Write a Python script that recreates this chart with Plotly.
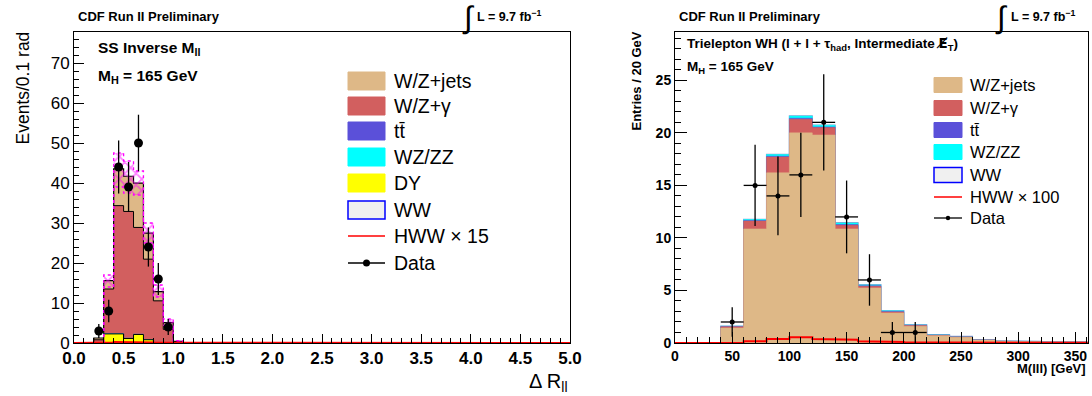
import numpy as np
import plotly.graph_objects as go

W, H = 1092, 396

# ---------------- Left panel data (Delta R_ll, 0.1 rad bins) ----------------
L_LO = [0.2, 0.3, 0.4, 0.5, 0.6, 0.7, 0.8, 0.9, 1.0]          # lower bin edges (non-empty bins)
L_WW = [0.0, 0.02, 0.03, 0.03, 0.03, 0.02, 0.01, 0.0, 0.0]
L_DY = [0.0, 2.25, 2.25, 1.1, 2.1, 0.8, 0.0, 0.0, 0.0]
L_WZZZ = [0.0, 0.02, 0.04, 0.04, 0.04, 0.03, 0.02, 0.01, 0.0]
L_TT = [0.0, 0.01, 0.02, 0.02, 0.02, 0.01, 0.01, 0.0, 0.0]
L_WZG = [0.8, 11.2, 32.0, 31.7, 26.7, 20.1, 10.5, 3.4, 0.2]
L_WZJ = [0.45, 2.1, 9.2, 8.8, 11.1, 6.5, 2.3, 1.7, 0.2]
L_HWW = [0.0, 0.1, 0.25, 0.25, 0.2, 0.1, 0.05, 0.0, 0.0]       # HWW x 15
L_BAND_UP = [0.0, 17.0, 47.5, 45.5, 43.0, 30.0, 14.5, 6.0, 0.6]
L_BAND_DN = [0.0, 14.0, 39.0, 37.5, 37.0, 25.0, 11.5, 4.4, 0.2]
L_DATA_X = [0.25, 0.35, 0.45, 0.55, 0.65, 0.75, 0.85, 0.95]
L_DATA_Y = [3, 8, 44, 39, 50, 24, 16, 4]
L_BINW = 0.1

# ---------------- Right panel data (M(lll), 20 GeV bins) ----------------
R_LO = [0, 20, 40, 60, 80, 100, 120, 140, 160, 180, 200, 220, 240, 260, 280, 300, 320, 340]
R_WZJ = [0, 0, 1.43, 10.86, 16.2, 20.0, 19.8, 10.86, 5.24, 2.86, 1.6, 0.7, 0.55, 0.28, 0.17, 0.12, 0.08, 0.08]
R_WZG = [0, 0, 0.12, 0.74, 1.5, 1.3, 0.7, 0.34, 0.16, 0.1, 0.06, 0.04, 0.03, 0.01, 0.01, 0, 0, 0]
R_TT = [0, 0, 0.02, 0.05, 0.08, 0.1, 0.07, 0.07, 0.05, 0.04, 0.02, 0.02, 0.02, 0.01, 0.01, 0.01, 0, 0]
R_WZZZ = [0, 0, 0.03, 0.1, 0.15, 0.2, 0.15, 0.15, 0.08, 0.06, 0.04, 0.02, 0.02, 0.01, 0.01, 0.01, 0.01, 0.01]
R_WW = [0, 0, 0.01, 0.02, 0.03, 0.03, 0.03, 0.03, 0.02, 0.02, 0.02, 0.02, 0.02, 0.01, 0.01, 0.01, 0.01, 0.01]
R_HWW = [0, 0, 0.03, 0.16, 0.38, 0.54, 0.38, 0.32, 0.16, 0.1, 0.06, 0.05, 0.05, 0.04, 0.04, 0.03, 0.03, 0.02]  # x100
R_DATA_X = [50, 70, 90, 110, 130, 150, 170, 190, 210]
R_DATA_Y = [2, 15, 14, 16, 21, 12, 6, 1, 1]
R_BINW = 20

C_WZJ = "#deb887"
C_WZG = "#d25f5f"
C_TT = "#5b50d9"
C_WZZZ = "#00ffff"
C_DY = "#ffff00"
C_WWF = "#f0f0f0"
C_WWL = "#0000ff"
FONT = "Liberation Sans, Arial, Helvetica, sans-serif"


def step(lo, vals, w):
    xs, ys = [lo[0]], [0.0]
    for x0, v in zip(lo, vals):
        xs += [x0, x0 + w]
        ys += [v, v]
    xs.append(lo[-1] + w)
    ys.append(0.0)
    return xs, ys


fig = go.Figure()


def add_stack(comps, lo, w, xa, ya):
    # comps: bottom -> top list of (values, fill, line, lw)
    cum = np.zeros(len(lo))
    cums = []
    for vals, fc, lc, lw in comps:
        cum = cum + np.array(vals, dtype=float)
        cums.append((cum.copy(), fc, lc, lw))
    for c, fc, lc, lw in reversed(cums):
        xs, ys = step(lo, list(c), w)
        fig.add_trace(go.Scatter(x=xs, y=ys, mode="lines", fill="tozeroy", fillcolor=fc,
                                 line=dict(color=lc, width=lw), xaxis=xa, yaxis=ya,
                                 showlegend=False, hoverinfo="skip"))


# Left stack (bottom -> top)
add_stack([(L_WW, C_WWF, C_WWF, 0.5), (L_DY, C_DY, "black", 1), (L_WZZZ, C_WZZZ, C_WZZZ, 0.5),
           (L_TT, C_TT, C_TT, 0.5), (L_WZG, C_WZG, "black", 1), (L_WZJ, C_WZJ, "black", 1.2)],
          L_LO, L_BINW, "x", "y")

# uncertainty band (magenta hatched), one closed rectangle per bin
bx, by = [], []
for lo, up, dn in zip(L_LO, L_BAND_UP, L_BAND_DN):
    if up - dn <= 0:
        continue
    bx += [lo, lo + L_BINW, lo + L_BINW, lo, lo, None]
    by += [dn, dn, up, up, dn, None]
fig.add_trace(go.Scatter(x=bx, y=by, mode="lines", fill="toself", fillcolor="rgba(0,0,0,0)",
                         fillpattern=dict(shape="x", fgcolor="#ff00ff", size=8, solidity=0.4,
                                          fillmode="overlay"),
                         line=dict(width=0, color="rgba(0,0,0,0)"),
                         xaxis="x", yaxis="y", showlegend=False, hoverinfo="skip"))
for band in (L_BAND_UP, L_BAND_DN):
    xs, ys = step(L_LO[1:], band[1:], L_BINW)
    fig.add_trace(go.Scatter(x=xs, y=ys, mode="lines", line=dict(color="#ff00ff", width=1.3, dash="dot"),
                             xaxis="x", yaxis="y", showlegend=False, hoverinfo="skip"))

# HWW x15 over full range
full_lo = [round(0.1 * i, 1) for i in range(50)]
hww_full = [0.0] * 50
for lo, v in zip(L_LO, L_HWW):
    hww_full[int(round(lo * 10))] = v
xs, ys = step(full_lo, hww_full, L_BINW)
fig.add_trace(go.Scatter(x=xs, y=ys, mode="lines", line=dict(color="red", width=2),
                         xaxis="x", yaxis="y", showlegend=False, hoverinfo="skip"))

fig.add_trace(go.Scatter(x=L_DATA_X, y=L_DATA_Y, mode="markers",
                         marker=dict(color="black", size=9),
                         error_y=dict(type="data", array=list(np.sqrt(L_DATA_Y)), color="black",
                                      thickness=1.3, width=0),
                         xaxis="x", yaxis="y", showlegend=False, hoverinfo="skip"))

# Right stack (bottom -> top)
add_stack([(R_WZJ, C_WZJ, C_WZJ, 0.5), (R_WZG, C_WZG, C_WZG, 0.5), (R_TT, C_TT, C_TT, 0.5),
           (R_WZZZ, C_WZZZ, C_WZZZ, 0.5), (R_WW, C_WWF, "#8f9fd6", 1.2)],
          R_LO, R_BINW, "x2", "y2")

xs, ys = step(R_LO, R_HWW, R_BINW)
fig.add_trace(go.Scatter(x=xs, y=ys, mode="lines", line=dict(color="red", width=2),
                         xaxis="x2", yaxis="y2", showlegend=False, hoverinfo="skip"))
fig.add_trace(go.Scatter(x=R_DATA_X, y=R_DATA_Y, mode="markers",
                         marker=dict(color="black", size=5),
                         error_y=dict(type="data", array=list(np.sqrt(R_DATA_Y)), color="black",
                                      thickness=1.3, width=0),
                         error_x=dict(type="constant", value=R_BINW / 2, color="black",
                                      thickness=1.3, width=0),
                         xaxis="x2", yaxis="y2", showlegend=False, hoverinfo="skip"))


def px(x):
    return x / W


def py(y):
    return 1 - y / H


axis_common = dict(showline=True, linecolor="black", linewidth=1, mirror=True, showgrid=False,
                   zeroline=False, ticks="inside", tickcolor="black", automargin=False)

fig.update_layout(
    width=W, height=H, margin=dict(l=0, r=0, t=0, b=0, autoexpand=False),
    paper_bgcolor="white", plot_bgcolor="white", bargap=0,
    xaxis=dict(domain=[px(74), px(570)], range=[0, 5.0], dtick=0.5, tick0=0, tickformat=".1f",
               ticklen=9, minor=dict(dtick=0.1, ticklen=5, ticks="inside", tickcolor="black"),
               tickfont=dict(family=FONT, size=17, color="black", weight="bold"),
               anchor="y", **axis_common),
    yaxis=dict(domain=[py(343), py(32)], range=[0, 77.75], dtick=10, ticklen=10,
               minor=dict(dtick=2, ticklen=5, ticks="inside", tickcolor="black"),
               tickfont=dict(family=FONT, size=17, color="black"), anchor="x", **axis_common),
    xaxis2=dict(domain=[px(675), px(1088)], range=[0, 361], dtick=50, tick0=0, ticklen=11,
                minor=dict(dtick=10, ticklen=6, ticks="inside", tickcolor="black"),
                tickfont=dict(family=FONT, size=14, color="black", weight="bold"),
                anchor="y2", **axis_common),
    yaxis2=dict(domain=[py(343), py(32)], range=[0, 29.6], dtick=5, ticklen=12,
                minor=dict(dtick=1, ticklen=6, ticks="inside", tickcolor="black"),
                tickfont=dict(family=FONT, size=14, color="black", weight="bold"),
                anchor="x2", **axis_common),
)

ann = []
shapes = []


def text(x, y, s, size, bold=False, xanchor="left", yanchor="middle", angle=0, color="black"):
    ann.append(dict(x=px(x), y=py(y), xref="paper", yref="paper", text=s, showarrow=False,
                    xanchor=xanchor, yanchor=yanchor, textangle=angle,
                    font=dict(family=FONT, size=size, color=color, weight="bold" if bold else "normal")))


# headers
text(76, 16, "CDF Run II Preliminary", 13, bold=True)
text(468, 17, "∫", 31, xanchor="center")
text(475, 16, "L = 9.7 fb<sup>−1</sup>", 12.5, bold=True)
text(677, 16, "CDF Run II Preliminary", 13, bold=True)
text(1001, 17, "∫", 31, xanchor="center")
text(1009, 16, "L = 9.7 fb<sup>−1</sup>", 12.5, bold=True)

# in-plot labels
text(96, 49, "SS Inverse M<sub>ll</sub>", 15.5, bold=True)
text(96, 77, "M<sub>H</sub> = 165 GeV", 15.5, bold=True)
text(685, 44, "Trielepton WH (l + l + τ<sub>had</sub>, Intermediate "
              "<span style='font-family:DejaVu Sans'>E\u0338</span><sub>T</sub>)", 13.5, bold=True)
text(685, 67, "M<sub>H</sub> = 165 GeV", 13.5, bold=True)

# axis titles
text(22, 30, "Events/0.1 rad", 17.5, xanchor="center", yanchor="top", angle=-90)
text(570, 382, "Δ R<sub>ll</sub>", 20, xanchor="right")
text(636, 30, "Entries / 20 GeV", 13, bold=True, xanchor="center", yanchor="top", angle=-90)
text(1088, 368, "M(lll) [GeV]", 13, bold=True, xanchor="right")


# legends
def legend(x0, x1, lx, rows, size, bh):
    for y, kind, col, lab in rows:
        if kind == "box":
            shapes.append(dict(type="rect", xref="paper", yref="paper", x0=px(x0), x1=px(x1),
                               y0=py(y + bh / 2), y1=py(y - bh / 2), fillcolor=col,
                               line=dict(color=col, width=1)))
        elif kind == "ww":
            shapes.append(dict(type="rect", xref="paper", yref="paper", x0=px(x0), x1=px(x1),
                               y0=py(y + bh / 2), y1=py(y - bh / 2), fillcolor=C_WWF,
                               line=dict(color=C_WWL, width=1.5)))
        elif kind == "line":
            shapes.append(dict(type="line", xref="paper", yref="paper", x0=px(x0), x1=px(x1),
                               y0=py(y), y1=py(y), line=dict(color=col, width=1.5)))
        elif kind == "data":
            shapes.append(dict(type="line", xref="paper", yref="paper", x0=px(x0), x1=px(x1),
                               y0=py(y), y1=py(y), line=dict(color="black", width=1.3)))
            r = 3.5 if size > 18 else 2.2
            xc = (x0 + x1) / 2
            shapes.append(dict(type="circle", xref="paper", yref="paper", x0=px(xc - r), x1=px(xc + r),
                               y0=py(y + r), y1=py(y - r), fillcolor="black", line=dict(color="black", width=0)))
        text(lx, y, lab, size)


legend(348, 385, 392, [
    (81, "box", C_WZJ, "W/Z+jets"),
    (106, "box", C_WZG, "W/Z+γ"),
    (131, "box", C_TT, "tt\u0304"),
    (157, "box", C_WZZZ, "WZ/ZZ"),
    (183, "box", C_DY, "DY"),
    (210, "ww", None, "WW"),
    (236, "line", "red", "HWW × 15"),
    (263, "data", None, "Data"),
], 19.5, 18)

legend(934, 962, 968, [
    (85, "box", C_WZJ, "W/Z+jets"),
    (108, "box", C_WZG, "W/Z+γ"),
    (130, "box", C_TT, "tt\u0304"),
    (152, "box", C_WZZZ, "WZ/ZZ"),
    (175, "ww", None, "WW"),
    (197, "line", "red", "HWW × 100"),
    (218, "data", None, "Data"),
], 16.5, 15)

fig.update_layout(annotations=ann, shapes=shapes)
fig.write_html("out.html", config={"displayModeBar": False},
               post_script="document.body.style.margin='0';document.body.style.overflow='hidden';")
